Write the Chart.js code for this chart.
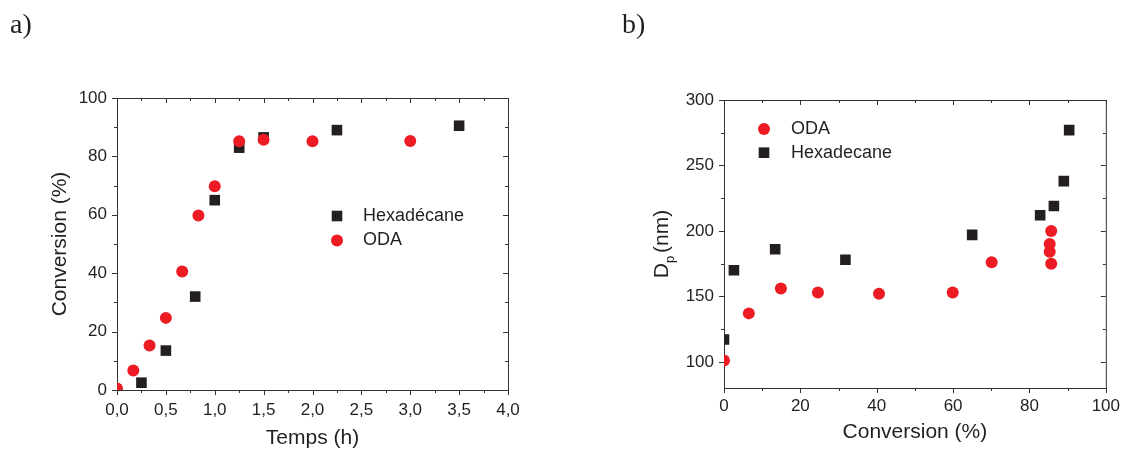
<!DOCTYPE html>
<html lang="fr">
<head>
<meta charset="UTF-8">
<title>Conversion et taille des particules</title>
<script src="https://cdn.jsdelivr.net/npm/chart.js"></script>
<style>
  body { margin: 0; background: #fff; }
  .wrap { position: relative; width: 1128px; height: 450px; }
  canvas { position: absolute; top: 0; }
  #chartA { left: 0; }
  #chartB { left: 564px; }
  /* panel letters */
  .tag { position: absolute; top: 10px; font-family: "Liberation Serif", "Times New Roman", serif; font-size: 28px; line-height: 28px; color: #231f20; }
</style>
</head>
<body>
<div class="wrap">
  <canvas id="chartA" width="564" height="450"></canvas>
  <canvas id="chartB" width="564" height="450"></canvas>
  <div class="tag" style="left:10px">a)</div>
  <div class="tag" style="left:622px">b)</div>
</div>
<script>
// a) conversion vs temps
const hexTime = [0.25, 0.5, 0.8, 1.0, 1.25, 1.5, 2.25, 3.5];
const hexConv = [2.5, 13.5, 32, 65, 83, 86.5, 89, 90.5];
const odaTime = [0, 0.167, 0.333, 0.5, 0.667, 0.833, 1.0, 1.25, 1.5, 2.0, 3.0];
const odaConv = [0.5, 6.7, 15.2, 24.7, 40.6, 59.8, 69.8, 85.2, 85.7, 85.2, 85.3];

// b) Dp vs conversion
const odaX = [0, 6.5, 14.9, 24.6, 40.6, 59.9, 70.1, 85.7, 85.3, 85.3, 85.7];
const odaDp = [101, 137, 156, 153, 152, 153, 176, 200, 190, 184, 175];
const hexX = [0, 2.6, 13.4, 31.8, 65, 82.8, 86.4, 89, 90.4];
const hexDp = [117, 170, 186, 178, 197, 212, 219, 238, 277];

const BLACK = '#231f20';
const RED = '#ed1c24';
const FONT = 'Arial, "Liberation Sans", sans-serif';

Chart.defaults.font.family = FONT;
Chart.defaults.color = BLACK;

const toPoints = (xs, ys) => xs.map((x, i) => ({ x: x, y: ys[i] }));

// box around the plot + major/minor ticks (outside bottom/left, inside top/right)
const frameTicks = {
  id: 'frameTicks',
  beforeDatasetsDraw(chart, args, opts) {
    const { ctx, chartArea: a, scales: { x, y } } = chart;
    ctx.save();
    ctx.strokeStyle = '#333';
    ctx.lineWidth = 1;
    ctx.strokeRect(a.left + 0.5, a.top + 0.5, a.right - a.left, a.bottom - a.top);
    ctx.beginPath();
    const isMajor = (v, step) => Math.abs(v / step - Math.round(v / step)) < 1e-6;
    for (let v = Math.ceil(x.min / opts.xMinor) * opts.xMinor; v <= x.max + 1e-9; v += opts.xMinor) {
      const px = Math.round(x.getPixelForValue(v)) + 0.5;
      const len = isMajor(v, opts.xMajor) ? 5 : 3;
      ctx.moveTo(px, a.bottom); ctx.lineTo(px, a.bottom + len);
      ctx.moveTo(px, a.top); ctx.lineTo(px, a.top + len);
    }
    for (let v = Math.ceil(y.min / opts.yMinor) * opts.yMinor; v <= y.max + 1e-9; v += opts.yMinor) {
      const py = Math.round(y.getPixelForValue(v)) + 0.5;
      const len = isMajor(v, opts.yMajor) ? 5 : 3;
      ctx.moveTo(a.left, py); ctx.lineTo(a.left - len, py);
      ctx.moveTo(a.right, py); ctx.lineTo(a.right - len, py);
    }
    ctx.stroke();
    ctx.restore();
  }
};

// legend drawn inside the plot at a fixed place
const markerLegend = {
  id: 'markerLegend',
  afterDraw(chart, args, opts) {
    const ctx = chart.ctx;
    ctx.save();
    ctx.font = '18px ' + FONT;
    ctx.textBaseline = 'middle';
    chart.data.datasets.forEach((ds, i) => {
      const y = opts.y + i * opts.dy;
      ctx.fillStyle = ds.backgroundColor;
      if (ds.pointStyle === 'rect') {
        const s = ds.pointRadius * Math.SQRT2;
        ctx.fillRect(opts.x - s / 2, y - s / 2, s, s);
      } else {
        ctx.beginPath();
        ctx.arc(opts.x, y, ds.pointRadius, 0, Math.PI * 2);
        ctx.fill();
      }
      ctx.fillStyle = BLACK;
      ctx.fillText(ds.label, opts.textX, y);
    });
    ctx.restore();
  }
};

// "Dp (nm)" with subscript p
const dpTitle = {
  id: 'dpTitle',
  afterDraw(chart) {
    const { ctx, chartArea: a } = chart;
    const big = '21px ' + FONT, small = '13px ' + FONT;
    ctx.save();
    ctx.translate(104, (a.top + a.bottom) / 2);
    ctx.rotate(-Math.PI / 2);
    ctx.fillStyle = BLACK;
    ctx.textBaseline = 'alphabetic';
    ctx.font = big;
    const wD = ctx.measureText('D').width;
    const wRest = ctx.measureText('(nm)').width;
    ctx.font = small;
    const wp = ctx.measureText('p').width;
    const gap = 3;
    let x0 = -(wD + wp + gap + wRest) / 2;
    ctx.font = big;
    ctx.fillText('D', x0, 0);
    ctx.font = small;
    ctx.fillText('p', x0 + wD, 6);
    ctx.font = big;
    ctx.fillText('(nm)', x0 + wD + wp + gap, 0);
    ctx.restore();
  }
};

const hexStyle = { backgroundColor: BLACK, pointStyle: 'rect', pointRadius: 7.5, borderWidth: 0, clip: 0 };
const odaStyle = { backgroundColor: RED, pointStyle: 'circle', pointRadius: 6, borderWidth: 0, clip: 0 };

// a)
new Chart(document.getElementById('chartA'), {
  type: 'scatter',
  data: {
    datasets: [
      Object.assign({ label: 'Hexadécane', data: toPoints(hexTime, hexConv), order: 1 }, hexStyle),
      Object.assign({ label: 'ODA', data: toPoints(odaTime, odaConv), order: 0 }, odaStyle)
    ]
  },
  options: {
    responsive: false,
    animation: false,
    events: [],
    layout: { padding: { top: 98, right: 56, left: 0, bottom: 0 } },
    scales: {
      x: {
        min: 0, max: 4,
        grid: { display: false, drawTicks: false },
        border: { display: false },
        ticks: { stepSize: 0.5, padding: 10, font: { size: 17 }, callback: v => v.toFixed(1).replace('.', ',') },
        title: { display: true, text: 'Temps (h)', font: { size: 21 }, padding: { top: 0, bottom: -1 } },
        afterFit: s => { s.height = 60; }
      },
      y: {
        min: 0, max: 100,
        grid: { display: false, drawTicks: false },
        border: { display: false },
        ticks: { stepSize: 20, padding: 10, font: { size: 17 } },
        title: { display: true, text: 'Conversion (%)', font: { size: 21 }, padding: { top: 48, bottom: 0 } },
        afterFit: s => { s.width = 117; }
      }
    },
    plugins: {
      legend: { display: false },
      tooltip: { enabled: false },
      frameTicks: { xMajor: 0.5, xMinor: 0.25, yMajor: 20, yMinor: 10 },
      markerLegend: { x: 337, y: 216, dy: 24.5, textX: 363 }
    }
  },
  plugins: [frameTicks, markerLegend]
});

// b)
new Chart(document.getElementById('chartB'), {
  type: 'scatter',
  data: {
    datasets: [
      Object.assign({ label: 'ODA', data: toPoints(odaX, odaDp) }, odaStyle),
      Object.assign({ label: 'Hexadecane', data: toPoints(hexX, hexDp) }, hexStyle)
    ]
  },
  options: {
    responsive: false,
    animation: false,
    events: [],
    layout: { padding: { top: 100, right: 17, left: 0, bottom: 0 } },
    scales: {
      x: {
        min: 0, max: 100,
        grid: { display: false, drawTicks: false },
        border: { display: false },
        ticks: { stepSize: 20, padding: 8, font: { size: 17 } },
        title: { display: true, text: 'Conversion (%)', font: { size: 21 }, padding: { top: 0, bottom: 5 } },
        afterFit: s => { s.height = 62; }
      },
      y: {
        min: 80, max: 300,
        grid: { display: false, drawTicks: false },
        border: { display: false },
        ticks: { stepSize: 50, padding: 10, font: { size: 17 } },
        afterBuildTicks: s => { s.ticks = s.ticks.filter(t => t.value % 50 === 0); },
        afterFit: s => { s.width = 160; }
      }
    },
    plugins: {
      legend: { display: false },
      tooltip: { enabled: false },
      frameTicks: { xMajor: 20, xMinor: 10, yMajor: 50, yMinor: 25 },
      markerLegend: { x: 200, y: 129, dy: 23.7, textX: 227 }
    }
  },
  plugins: [frameTicks, markerLegend, dpTitle]
});
</script>
</body>
</html>
